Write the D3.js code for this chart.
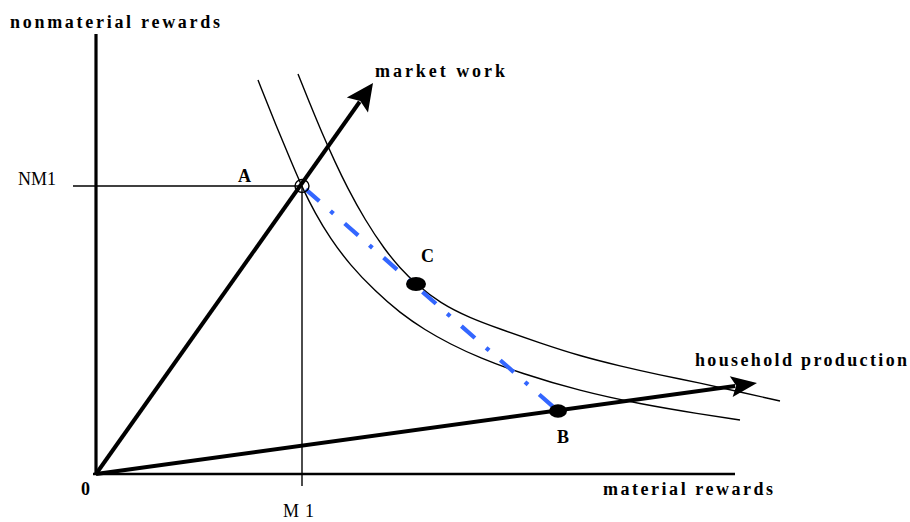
<!DOCTYPE html>
<html>
<head>
<meta charset="utf-8">
<script src="https://cdn.jsdelivr.net/npm/d3@7"></script>
<style>
  html, body { margin: 0; padding: 0; background: #fff; }
  svg { display: block; }
  text { font-family: "Liberation Serif", "DejaVu Serif", serif; fill: #000; }
</style>
</head>
<body>
<svg id="chart" width="910" height="522"></svg>
<script>
// ---------- data (in abstract reward units) ----------
const axisMax = [63.9, 44.0];                 // material, nonmaterial extent of axes
const innerCurve = [
  [16.2, 39.4], [17.9, 35.1], [19.7, 30.8], [20.6, 28.7], [21.9, 26.1],
  [23.4, 23.6], [25.4, 20.9], [27.9, 18.3], [30.4, 16.1], [32.9, 14.4],
  [35.4, 13.0], [38.4, 11.6], [42.4, 10.1], [48.4, 8.3], [54.4, 7.0],
  [60.4, 6.0], [64.4, 5.4]
];
const outerCurve = [
  [20.2, 40.0], [21.4, 37.0], [22.6, 34.1], [23.9, 31.2], [25.1, 28.7],
  [26.9, 25.4], [28.9, 22.4], [30.4, 20.6], [32.0, 19.0], [34.4, 17.1],
  [37.4, 15.6], [40.4, 14.5], [44.4, 13.1], [48.4, 11.8], [52.4, 10.8],
  [56.4, 9.9], [60.4, 9.1], [64.4, 8.2], [68.4, 7.3]
];
const rayNames = ["market work", "household production"];
const rayEndM  = [27.7, 66.1];
const rayEndNM = [39.1, 9.1];
const pointNames = ["A", "B", "C"];
const pointM  = [20.6, 46.2, 32.0];
const pointNM = [28.8, 6.3, 19.0];
const tickLabelM = "M1";
const tickLabelNM = "NM1";
const originLabel = "0";
const xTitle = "material rewards";
const yTitle = "nonmaterial rewards";

// ---------- scales ----------
const svg = d3.select("#chart");
const x = d3.scaleLinear().domain([0, 64]).range([96, 736]);
const y = d3.scaleLinear().domain([0, 44]).range([474, 34]);

const line = d3.line().x(d => x(d[0])).y(d => y(d[1]));
const curveLine = d3.line().x(d => x(d[0])).y(d => y(d[1])).curve(d3.curveBasis);

// ---------- reference lines NM1 / M1 ----------
const A = [pointM[0], pointNM[0]];
svg.append("line")
  .attr("x1", x(0) - 23).attr("x2", x(A[0]))
  .attr("y1", y(A[1])).attr("y2", y(A[1]))
  .attr("stroke", "#000").attr("stroke-width", 1.4);
svg.append("line")
  .attr("x1", x(A[0])).attr("x2", x(A[0]))
  .attr("y1", y(A[1])).attr("y2", y(0) + 12)
  .attr("stroke", "#000").attr("stroke-width", 1.4);

// ---------- indifference curves ----------
[innerCurve, outerCurve].forEach(c => {
  svg.append("path").attr("d", curveLine(c))
    .attr("fill", "none").attr("stroke", "#000").attr("stroke-width", 1.4);
});

// ---------- axes ----------
svg.append("line")
  .attr("x1", x(0)).attr("x2", x(0)).attr("y1", y(0)).attr("y2", y(axisMax[1]))
  .attr("stroke", "#000").attr("stroke-width", 3.2);
svg.append("line")
  .attr("x1", x(0) - 3).attr("x2", x(axisMax[0])).attr("y1", y(0)).attr("y2", y(0))
  .attr("stroke", "#000").attr("stroke-width", 2.6);

// ---------- rays with arrowheads ----------
const arrowSize = [[27, 13], [26, 10.5]];
rayNames.forEach((name, i) => {
  const sx = x(0), sy = y(0), tx = x(rayEndM[i]), ty = y(rayEndNM[i]);
  const len = Math.hypot(tx - sx, ty - sy);
  const ux = (tx - sx) / len, uy = (ty - sy) / len;
  const [L, W] = arrowSize[i];
  const bx = tx - ux * L, by = ty - uy * L;
  svg.append("line")
    .attr("x1", sx).attr("y1", sy).attr("x2", bx + ux * 4).attr("y2", by + uy * 4)
    .attr("stroke", "#000").attr("stroke-width", 4);
  svg.append("path")
    .attr("d", `M${tx},${ty}L${bx - uy * W},${by + ux * W}L${bx + ux * 5},${by + uy * 5}L${bx + uy * W},${by - ux * W}Z`)
    .attr("fill", "#000");
});

// ---------- blue dash-dot line A -> B ----------
svg.append("path")
  .attr("d", line([[pointM[0], pointNM[0]], [pointM[1], pointNM[1]]]))
  .attr("fill", "none").attr("stroke", "#3366ff").attr("stroke-width", 4.2)
  .attr("stroke-dasharray", "18,14.9,4,14.9").attr("stroke-dashoffset", -5);

// ---------- points ----------
svg.append("ellipse")
  .attr("cx", x(pointM[0])).attr("cy", y(pointNM[0])).attr("rx", 7).attr("ry", 6.5)
  .attr("fill", "none").attr("stroke", "#000").attr("stroke-width", 1.4);
svg.append("ellipse")
  .attr("cx", x(pointM[1])).attr("cy", y(pointNM[1])).attr("rx", 9).attr("ry", 6.7)
  .attr("fill", "#000");
svg.append("ellipse")
  .attr("cx", x(pointM[2])).attr("cy", y(pointNM[2])).attr("rx", 10).attr("ry", 7)
  .attr("fill", "#000");

// ---------- labels ----------
function label(txt, px, py, opts) {
  const t = svg.append("text").attr("x", px).attr("y", py).text(txt)
    .attr("font-size", opts.size || 18)
    .attr("font-weight", opts.bold ? "bold" : "normal");
  if (opts.anchor) t.attr("text-anchor", opts.anchor);
  if (opts.len) t.attr("textLength", opts.len).attr("lengthAdjust", "spacing");
  return t;
}
label(yTitle, 10, y(axisMax[1]) - 6, { bold: true, len: 210 });
label(xTitle, 603, y(0) + 21, { bold: true, len: 170 });
label(rayNames[0], x(rayEndM[0]) + 2, y(rayEndNM[0]) - 6, { bold: true, len: 130 });
label(rayNames[1], x(rayEndM[1]) - 62, y(rayEndNM[1]) - 17, { bold: true, len: 212 });
label(originLabel, x(0) - 15, y(0) + 21, { bold: true });
label(tickLabelM, x(pointM[0]) - 19, y(0) + 43, { len: 31, size: 18 });
label(tickLabelNM, 18, y(pointNM[0]) - 1, { len: 38, size: 18 });
label(pointNames[0], x(pointM[0]) - 64, y(pointNM[0]) - 4, { bold: true });
label(pointNames[1], x(pointM[1]) - 1, y(pointNM[1]) + 32, { bold: true });
label(pointNames[2], x(pointM[2]) + 5, y(pointNM[2]) - 22, { bold: true });
</script>
</body>
</html>
